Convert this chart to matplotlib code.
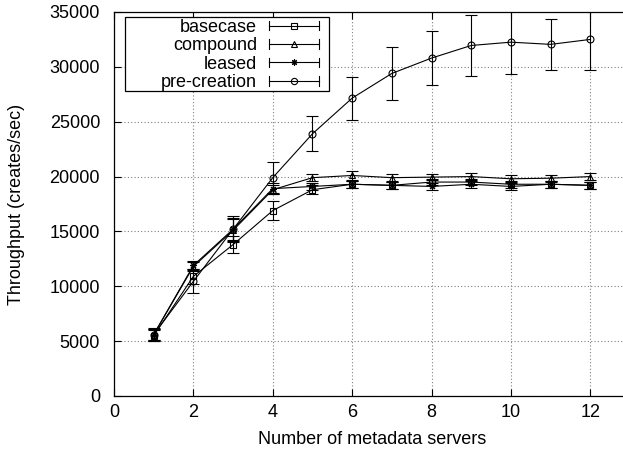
import matplotlib
matplotlib.use('Agg')
import matplotlib.pyplot as plt
from matplotlib.legend_handler import HandlerBase
from matplotlib.lines import Line2D
from matplotlib.patches import Rectangle

plt.rcParams['font.family'] = ['Liberation Sans', 'DejaVu Sans']
plt.rcParams['font.size'] = 13

servers = [1, 2, 3, 4, 5, 6, 7, 8, 9, 10, 11, 12]

basecase = [5500, 10900, 13800, 16900, 18800, 19300, 19200, 19500, 19500, 19300, 19300, 19200]
basecase_err = [500, 700, 750, 850, 400, 300, 300, 300, 300, 300, 300, 300]

compound = [5600, 11800, 15100, 18800, 19900, 20100, 19900, 19950, 20000, 19800, 19850, 20000]
compound_err = [500, 400, 1000, 400, 300, 400, 300, 300, 300, 300, 300, 300]

leased = [5600, 11900, 15200, 18900, 19100, 19300, 19200, 19100, 19300, 19100, 19300, 19200]
leased_err = [500, 400, 1200, 500, 300, 300, 300, 300, 300, 300, 300, 300]

precreation = [5600, 10450, 15200, 19900, 23900, 27150, 29400, 30800, 31950, 32250, 32050, 32500]
precreation_err = [600, 1100, 1000, 1400, 1600, 1950, 2400, 2480, 2740, 2900, 2300, 2800]

series = [
    ('basecase', basecase, basecase_err, 's'),
    ('compound', compound, compound_err, '^'),
    ('leased', leased, leased_err, (8, 2, 0)),
    ('pre-creation', precreation, precreation_err, 'o'),
]


class CapHandler(HandlerBase):
    # gnuplot style key sample: line with caps at both ends, marker in middle
    def create_artists(self, legend, orig_handle, xdescent, ydescent,
                       width, height, fontsize, trans):
        y = height / 2 - ydescent
        x0 = -xdescent
        x1 = width - xdescent
        cap = 3.5
        arts = [
            Line2D([x0, x1], [y, y], color='k', lw=0.8),
            Line2D([x0, x0], [y - cap, y + cap], color='k', lw=0.8),
            Line2D([x1, x1], [y - cap, y + cap], color='k', lw=0.8),
            Line2D([(x0 + x1) / 2], [y], marker=orig_handle.get_marker(),
                   markersize=4.5, mfc='none', mec='k', mew=0.8, ls='none'),
        ]
        for a in arts:
            a.set_transform(trans)
        return arts


fig = plt.figure(figsize=(6.23, 4.55), dpi=100)
# right edge of the plot box runs past the picture, as in the original crop
ax = fig.add_axes([114 / 623, 59 / 455, 516 / 623, 384 / 455])

handles = []
for name, vals, errs, mk in series:
    ax.errorbar(servers, vals, yerr=errs, color='k', lw=0.8, elinewidth=0.8,
                capsize=4, capthick=0.8, marker=mk, markersize=5,
                mfc='none', mec='k', mew=0.8)
    handles.append(Line2D([], [], color='k', marker=mk, label=name))

ax.set_xlim(0, 13)
ax.set_ylim(0, 35000)
ax.set_xticks(range(0, 13, 2))
ax.set_yticks(range(0, 35001, 5000))
ax.grid(True, color='0.5', linestyle=(0, (1, 2)), lw=0.8)
ax.tick_params(direction='in', top=True, right=False, length=5, width=0.8)
ax.tick_params(axis='x', pad=6)
ax.tick_params(axis='y', pad=10)
for sp in ax.spines.values():
    sp.set_linewidth(0.9)
ax.spines['right'].set_visible(False)

ax.set_xlabel('Number of metadata servers', labelpad=7)
ax.set_ylabel('Throughput (creates/sec)', labelpad=18)

# key box, wider than its contents like gnuplot's
ax.add_patch(Rectangle((0.0213, 0.794), 0.3954, 0.193, transform=ax.transAxes,
                       facecolor='white', edgecolor='k', lw=0.9, zorder=4))

leg = ax.legend(handles=handles, loc='upper right', bbox_to_anchor=(0.3973, 0.982),
                borderaxespad=0, borderpad=0, markerfirst=False, frameon=False,
                handlelength=2.77, handletextpad=0.66, labelspacing=0.08,
                handler_map={Line2D: CapHandler()})
leg.set_zorder(5)

fig.savefig('out.png', dpi=100)
